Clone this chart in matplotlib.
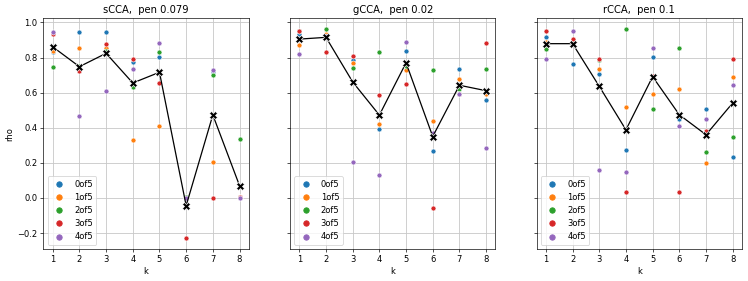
import numpy as np
import matplotlib
matplotlib.use("Agg")
import matplotlib.pyplot as plt
from matplotlib.lines import Line2D

# k values and fold labels
ks = [1, 2, 3, 4, 5, 6, 7, 8]
folds = ['0of5', '1of5', '2of5', '3of5', '4of5']
fold_colors = ['#1f77b4', '#ff7f0e', '#2ca02c', '#d62728', '#9467bd']

titles = ['sCCA,  pen 0.079', 'gCCA,  pen 0.02', 'rCCA,  pen 0.1']

# rho per fold (rows) and k (columns)
scca_rho = [
    [0.833, 0.945, 0.945, 0.776, 0.805, 0.000, 0.720, 0.005],
    [0.840, 0.852, 0.852, 0.330, 0.411, 0.005, 0.206, 0.005],
    [0.748, 0.754, 0.838, 0.634, 0.833, 0.005, 0.702, 0.335],
    [0.935, 0.723, 0.875, 0.793, 0.653, -0.231, 0.002, 0.005],
    [0.943, 0.466, 0.610, 0.735, 0.880, 0.000, 0.729, 0.000],
]
gcca_rho = [
    [0.932, 0.925, 0.786, 0.394, 0.837, 0.269, 0.733, 0.559],
    [0.869, 0.935, 0.769, 0.420, 0.727, 0.439, 0.676, 0.590],
    [0.950, 0.960, 0.742, 0.831, 0.750, 0.727, 0.621, 0.735],
    [0.951, 0.830, 0.808, 0.587, 0.648, -0.059, 0.590, 0.882],
    [0.820, 0.925, 0.206, 0.128, 0.888, 0.369, 0.593, 0.284],
]
rcca_rho = [
    [0.918, 0.761, 0.706, 0.274, 0.801, 0.450, 0.507, 0.236],
    [0.888, 0.889, 0.736, 0.519, 0.593, 0.621, 0.199, 0.689],
    [0.848, 0.889, 0.787, 0.964, 0.509, 0.852, 0.261, 0.347],
    [0.951, 0.905, 0.790, 0.036, 0.696, 0.032, 0.379, 0.793],
    [0.790, 0.951, 0.161, 0.149, 0.856, 0.411, 0.449, 0.642],
]

# mean rho across folds (black X line)
scca_mean = [0.861, 0.748, 0.824, 0.655, 0.716, -0.044, 0.473, 0.070]
gcca_mean = [0.905, 0.915, 0.661, 0.472, 0.770, 0.350, 0.642, 0.611]
rcca_mean = [0.879, 0.879, 0.636, 0.388, 0.691, 0.474, 0.360, 0.541]

all_rho = [scca_rho, gcca_rho, rcca_rho]
all_mean = [scca_mean, gcca_mean, rcca_mean]


def main():
    fig, axes = plt.subplots(1, 3, figsize=(748 / 60, 281 / 60), dpi=60, sharey=True)
    fig.subplots_adjust(left=0.058, right=0.992, top=0.935, bottom=0.114, wspace=0.2)

    # legend handles like seaborn's (plain dots, no edge)
    handles = [Line2D([], [], marker='o', linestyle='', color=c, markersize=6.5)
               for c in fold_colors]

    for ax, title, rho, mean in zip(axes, titles, all_rho, all_mean):
        ax.grid(True, color='#c8c8c8', linewidth=1.0)
        ax.set_axisbelow(True)
        for fold, color, vals in zip(folds, fold_colors, rho):
            ax.scatter(ks, vals, s=36, color=color, edgecolor='white',
                       linewidth=0.75, zorder=2)
        ax.plot(ks, mean, color='black', marker='X', markersize=9,
                markeredgecolor='white', markeredgewidth=0.8, linewidth=1.5, zorder=3)
        ax.set_title(title)
        ax.set_xlabel('k')
        ax.set_xticks(ks)
        ax.legend(handles, folds, loc='lower left')

    axes[0].set_ylabel('rho')

    plt.savefig('out.png', dpi=60)
    plt.close()


if __name__ == "__main__":
    main()
